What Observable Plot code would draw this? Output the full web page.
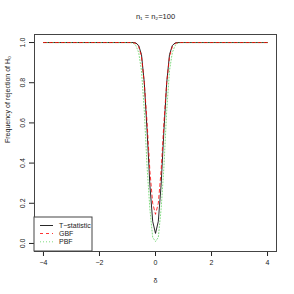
<!DOCTYPE html>
<html>
<head>
<meta charset="utf-8">
<script src="https://cdn.jsdelivr.net/npm/d3@7"></script>
<script src="https://cdn.jsdelivr.net/npm/@observablehq/plot@0.6"></script>
<style>
  html, body { margin: 0; padding: 0; background: #fff; }
  #chart { width: 294px; height: 294px; }
</style>
</head>
<body>
<div id="chart"></div>
<script>
// ---- data ----
const titleText = "n\u2081 = n\u2082=100";
const xLabel = "\u03b4";
const yLabel = "Frequency of rejection of H\u2080";
const xTicks = [-4, -2, 0, 2, 4];
const yTicks = [0, 0.2, 0.4, 0.6, 0.8, 1.0];
const seriesNames = ["T\u2212statistic", "GBF", "PBF"];

const delta = [-4, -1, -0.9, -0.8, -0.7, -0.6, -0.5, -0.4, -0.3, -0.2, -0.1, 0,
               0.1, 0.2, 0.3, 0.4, 0.5, 0.6, 0.7, 0.8, 0.9, 1, 4];
const tStat = [1, 1, 1, 1, 0.998, 0.985, 0.94, 0.80, 0.56, 0.29, 0.11, 0.05,
               0.11, 0.29, 0.56, 0.80, 0.94, 0.985, 0.998, 1, 1, 1, 1];
const gbf   = [1, 1, 1, 1, 0.995, 0.98, 0.93, 0.80, 0.60, 0.36, 0.20, 0.145,
               0.20, 0.36, 0.60, 0.80, 0.93, 0.98, 0.995, 1, 1, 1, 1];
const pbf   = [1, 1, 1, 0.997, 0.985, 0.95, 0.86, 0.66, 0.38, 0.17, 0.03, 0.01,
               0.03, 0.17, 0.38, 0.66, 0.86, 0.95, 0.985, 0.997, 1, 1, 1];

const rows = (vals) => delta.map((d, i) => ({d, v: vals[i]}));
const tRows = rows(tStat), gRows = rows(gbf), pRows = rows(pbf);

const fmt1 = d3.format(".1f");
const fmtX = (d) => String(d).replace("-", "\u2212");
const green = "#5fd35f";

const plot = Plot.plot({
  width: 294,
  height: 294,
  marginLeft: 34,
  marginRight: 18,
  marginTop: 34,
  marginBottom: 43,
  style: {fontFamily: "'Liberation Sans', Arial, sans-serif", fontSize: "7px", background: "#fff", color: "#222"},
  x: {domain: [-4.32, 4.32], ticks: xTicks, tickSize: 5, tickPadding: 4, tickFormat: fmtX, label: null},
  y: {domain: [-0.04, 1.04], ticks: yTicks, tickSize: 5, tickFormat: () => "", label: null},
  marks: [
    Plot.frame({stroke: "#444", strokeWidth: 1}),
    Plot.line(tRows, {x: "d", y: "v", stroke: "#111", strokeWidth: 0.9}),
    Plot.line(pRows, {x: "d", y: "v", stroke: green, strokeWidth: 0.8, strokeDasharray: "1,2"}),
    Plot.line(gRows, {x: "d", y: "v", stroke: "red", strokeWidth: 0.8, strokeDasharray: "3,3"}),
    Plot.text(yTicks, {y: (d) => d, text: (d) => fmt1(d), frameAnchor: "left", dx: -12, rotate: -90,
                       textAnchor: "middle", lineAnchor: "middle", fontSize: 7, fill: "#222"}),
    Plot.text([titleText], {frameAnchor: "top", dy: -18, fontSize: 7.5, lineAnchor: "middle", fill: "#222"}),
    Plot.text([xLabel], {frameAnchor: "bottom", dy: 29, fontSize: 7, lineAnchor: "middle", fill: "#222"}),
    Plot.text([yLabel], {frameAnchor: "left", dx: -27, rotate: -90, fontSize: 7, lineAnchor: "middle", fill: "#222"})
  ]
});
document.getElementById("chart").appendChild(plot);

// ---- legend (bottom-left inside the frame) ----
const svg = d3.select(plot);
const x0 = 34, yBottom = 251;
const g = svg.append("g")
  .attr("font-family", "'Liberation Sans', Arial, sans-serif")
  .attr("font-size", 7)
  .attr("text-anchor", "start");
g.append("rect").attr("x", x0).attr("y", 217).attr("width", 58).attr("height", yBottom - 217)
  .attr("fill", "#fff").attr("stroke", "#444").attr("stroke-width", 1);
const legStyles = [
  {stroke: "#111", dash: null, w: 0.9},
  {stroke: "red", dash: "3,3", w: 0.8},
  {stroke: green, dash: "1,2", w: 0.8}
];
const rowY = [225.5, 233.5, 241.8];
seriesNames.forEach((name, i) => {
  const s = legStyles[i];
  const ln = g.append("line").attr("x1", 40).attr("x2", 53).attr("y1", rowY[i]).attr("y2", rowY[i])
    .attr("stroke", s.stroke).attr("stroke-width", s.w);
  if (s.dash) ln.attr("stroke-dasharray", s.dash);
  g.append("text").attr("x", 59).attr("y", rowY[i]).attr("dy", "0.35em")
    .attr("text-anchor", "start").attr("fill", "#222").text(name);
});
</script>
</body>
</html>
